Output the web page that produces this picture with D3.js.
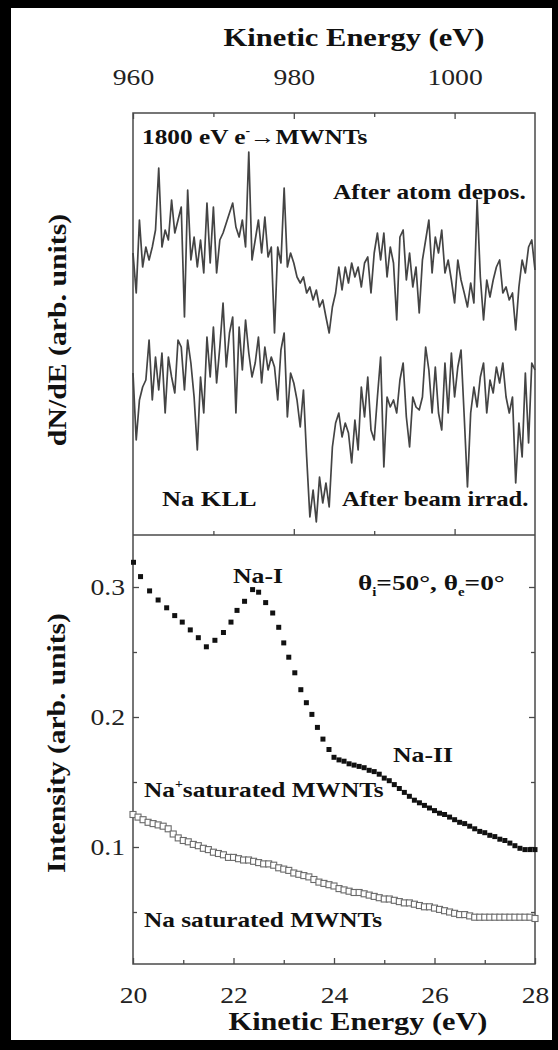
<!DOCTYPE html>
<html>
<head>
<meta charset="utf-8">
<script src="https://cdn.jsdelivr.net/npm/d3@7"></script>
<style>
  body { margin: 0; background: #fff; }
</style>
</head>
<body>
<svg id="chart"></svg>
<script>
// Datos
// Panel superior: espectros Auger Na KLL, energía 960..1010 eV, paso 0.4 eV
const keStart = 960;
const keStep = 0.4;
const afterDepos = [
  282, 242, 315, 268, 288, 275, 288, 305, 367, 288, 305, 295, 335, 302, 315, 328, 218, 345, 275, 298,
  268, 295, 262, 332, 272, 328, 262, 295, 302, 312, 322, 332, 308, 298, 315, 288, 383, 275, 295, 315,
  282, 318, 278, 288, 202, 288, 272, 347, 268, 282, 272, 258, 252, 258, 242, 248, 235, 245, 228, 235,
  218, 202, 228, 242, 268, 245, 268, 252, 272, 258, 268, 248, 272, 278, 242, 282, 302, 275, 302, 258,
  288, 272, 215, 298, 305, 255, 282, 248, 268, 222, 275, 295, 315, 262, 298, 282, 305, 262, 275, 255,
  232, 275, 255, 242, 228, 252, 232, 335, 258, 215, 255, 238, 255, 268, 275, 242, 248, 235, 242, 205,
  248, 275, 262, 288, 295, 265
];
const afterIrrad = [
  162, 95, 135, 148, 155, 195, 135, 178, 145, 182, 122, 178, 158, 142, 195, 188, 145, 195, 172, 138,
  85, 158, 122, 198, 158, 208, 152, 188, 232, 168, 202, 218, 122, 208, 165, 215, 182, 158, 172, 198,
  152, 188, 165, 178, 168, 135, 185, 202, 118, 162, 152, 135, 108, 145, 78, 18, 45, 13, 58, 32,
  52, 28, 88, 112, 122, 98, 112, 102, 72, 115, 85, 148, 118, 158, 105, 95, 138, 178, 68, 138,
  128, 135, 122, 155, 172, 118, 88, 138, 128, 125, 138, 188, 165, 122, 168, 122, 105, 172, 122, 182,
  138, 168, 185, 118, 48, 122, 148, 128, 158, 172, 122, 155, 142, 168, 152, 172, 138, 122, 138, 52,
  112, 78, 162, 92, 172, 165
];

// Panel inferior: intensidad vs energía cinética
const naIonE = [
  20.01, 20.15, 20.33, 20.5, 20.67, 20.83, 20.98, 21.14, 21.3, 21.46,
  21.63, 21.8, 21.95, 22.07, 22.22, 22.38, 22.5, 22.64, 22.78, 22.9,
  23.0, 23.1, 23.22, 23.34, 23.45, 23.56, 23.67, 23.78, 23.9, 24.0,
  24.1, 24.2, 24.3, 24.4, 24.5, 24.6, 24.7, 24.8, 24.9, 25.0,
  25.1, 25.2, 25.3, 25.4, 25.5, 25.6, 25.7, 25.8, 25.9, 26.0,
  26.1, 26.2, 26.3, 26.4, 26.5, 26.6, 26.7, 26.8, 26.9, 27.0,
  27.1, 27.2, 27.3, 27.4, 27.5, 27.6, 27.7, 27.8, 27.9, 28.0
];
const naIonI = [
  0.319, 0.308, 0.297, 0.290, 0.284, 0.278, 0.273, 0.267, 0.261, 0.254,
  0.259, 0.265, 0.273, 0.282, 0.289, 0.298, 0.296, 0.288, 0.280, 0.269,
  0.257, 0.246, 0.234, 0.221, 0.211, 0.202, 0.192, 0.183, 0.175, 0.169,
  0.167, 0.166, 0.164, 0.163, 0.162, 0.161, 0.159, 0.158, 0.156, 0.153,
  0.151, 0.148, 0.145, 0.142, 0.139, 0.136, 0.134, 0.132, 0.130, 0.128,
  0.126, 0.125, 0.123, 0.121, 0.119, 0.118, 0.116, 0.114, 0.112, 0.111,
  0.109, 0.108, 0.106, 0.105, 0.103, 0.101, 0.099, 0.098, 0.098, 0.098
];
const naAtomE = [
  20.0, 20.1, 20.2, 20.3, 20.4, 20.5, 20.6, 20.7, 20.8, 20.9,
  21.0, 21.1, 21.2, 21.3, 21.4, 21.5, 21.6, 21.7, 21.8, 21.9,
  22.0, 22.1, 22.2, 22.3, 22.4, 22.5, 22.6, 22.7, 22.8, 22.9,
  23.0, 23.1, 23.2, 23.3, 23.4, 23.5, 23.6, 23.7, 23.8, 23.9,
  24.0, 24.1, 24.2, 24.3, 24.4, 24.5, 24.6, 24.7, 24.8, 24.9,
  25.0, 25.1, 25.2, 25.3, 25.4, 25.5, 25.6, 25.7, 25.8, 25.9,
  26.0, 26.1, 26.2, 26.3, 26.4, 26.5, 26.6, 26.7, 26.8, 26.9,
  27.0, 27.1, 27.2, 27.3, 27.4, 27.5, 27.6, 27.7, 27.8, 27.9, 28.0
];
const naAtomI = [
  0.125, 0.123, 0.121, 0.119, 0.118, 0.117, 0.116, 0.114, 0.110, 0.107,
  0.105, 0.104, 0.102, 0.101, 0.099, 0.098, 0.096, 0.095, 0.094, 0.092,
  0.092, 0.091, 0.090, 0.090, 0.089, 0.088, 0.087, 0.087, 0.086, 0.084,
  0.083, 0.082, 0.080, 0.079, 0.078, 0.077, 0.075, 0.073, 0.072, 0.071,
  0.070, 0.068, 0.067, 0.066, 0.065, 0.065, 0.064, 0.063, 0.062, 0.061,
  0.060, 0.060, 0.059, 0.058, 0.057, 0.057, 0.056, 0.055, 0.054, 0.054,
  0.053, 0.052, 0.051, 0.050, 0.049, 0.048, 0.048, 0.047, 0.046, 0.046,
  0.046, 0.046, 0.046, 0.046, 0.046, 0.046, 0.046, 0.046, 0.046, 0.046, 0.045
];

const topMajor = [960, 980, 1000];
const topMinor = [970, 990];
const botMajor = [20, 22, 24, 26, 28];
const botMinor = [21, 23, 25, 27];
const yMajor = [0.1, 0.2, 0.3];
const yMinor = [0.05, 0.15, 0.25];

// Configuración
const width = 558;
const height = 1050;
const L = 133, R = 535, T = 113, M = 535, B = 964;
const frameColor = "#4a4a4a";
const serif = "'Liberation Serif', 'Times New Roman', Times, serif";

const svg = d3.select("#chart")
    .attr("width", width)
    .attr("height", height)
    .style("font-family", serif);

svg.append("rect").attr("width", width).attr("height", height).attr("fill", "#fff");

// estira el texto en horizontal (la figura original está algo ensanchada)
function stretch(sel, k) {
    sel.each(function () {
        const w = this.getComputedTextLength();
        d3.select(this).attr("textLength", w * k).attr("lengthAdjust", "spacingAndGlyphs");
    });
}

// Escalas
const xTop = d3.scaleLinear().domain([960, 1010]).range([L, R]);
const yTop = d3.scaleLinear().domain([0, 422]).range([M, T]);
const xBot = d3.scaleLinear().domain([20, 28]).range([L, R]);
const yBot = d3.scaleLinear().domain([0.01, 0.34]).range([B, M]);

function styleAxis(g) {
    g.attr("font-family", null).attr("font-size", null);
    g.select(".domain").remove();
    g.selectAll(".tick line").attr("stroke", frameColor).attr("stroke-width", 1.3);
    g.selectAll(".tick text")
        .attr("fill", "#222")
        .style("font-family", serif)
        .style("font-size", "24px")
        .call(stretch, 1.15);
}

// Ejes panel superior
svg.append("g").attr("transform", `translate(0,${T})`)
    .call(d3.axisTop(xTop).tickValues(topMajor).tickSize(-6).tickPadding(28).tickFormat(d3.format("d")))
    .call(styleAxis);
svg.append("g").attr("transform", `translate(0,${T})`)
    .call(d3.axisTop(xTop).tickValues(topMinor).tickSize(-4).tickFormat(""))
    .call(styleAxis);
svg.append("g").attr("transform", `translate(0,${M})`)
    .call(d3.axisBottom(xTop).tickValues(topMajor.slice(1)).tickSize(-6).tickFormat(""))
    .call(styleAxis);
svg.append("g").attr("transform", `translate(0,${M})`)
    .call(d3.axisBottom(xTop).tickValues(topMinor).tickSize(-4).tickFormat(""))
    .call(styleAxis);

// Ejes panel inferior
svg.append("g").attr("transform", `translate(0,${B})`)
    .call(d3.axisBottom(xBot).tickValues(botMajor).tickSize(-6).tickPadding(22))
    .call(styleAxis);
svg.append("g").attr("transform", `translate(0,${B})`)
    .call(d3.axisBottom(xBot).tickValues(botMinor).tickSize(-4).tickFormat(""))
    .call(styleAxis);
svg.append("g").attr("transform", `translate(${L},0)`)
    .call(d3.axisLeft(yBot).tickValues(yMajor).tickSize(-6).tickPadding(8).tickFormat(d3.format(".1f")))
    .call(styleAxis);
svg.append("g").attr("transform", `translate(${L},0)`)
    .call(d3.axisLeft(yBot).tickValues(yMinor).tickSize(-4).tickFormat(""))
    .call(styleAxis);
svg.append("g").attr("transform", `translate(${R},0)`)
    .call(d3.axisRight(yBot).tickValues(yMajor).tickSize(-6).tickFormat(""))
    .call(styleAxis);
svg.append("g").attr("transform", `translate(${R},0)`)
    .call(d3.axisRight(yBot).tickValues(yMinor).tickSize(-4).tickFormat(""))
    .call(styleAxis);

// Marcos
svg.append("rect").attr("x", L).attr("y", T).attr("width", R - L).attr("height", B - T)
    .attr("fill", "none").attr("stroke", frameColor).attr("stroke-width", 1.5);
svg.append("line").attr("x1", L).attr("x2", R).attr("y1", M).attr("y2", M)
    .attr("stroke", frameColor).attr("stroke-width", 1.5);

// Espectros
const line = d3.line()
    .x((d, i) => xTop(keStart + i * keStep))
    .y(d => yTop(d));

[afterDepos, afterIrrad].forEach(s => {
    svg.append("path")
        .datum(s)
        .attr("d", line)
        .attr("fill", "none")
        .attr("stroke", "#444")
        .attr("stroke-width", 1.7)
        .attr("stroke-linejoin", "round");
});

// Puntos panel inferior
const sq = 5;
svg.append("g").selectAll("rect")
    .data(naAtomE)
    .enter()
    .append("rect")
    .attr("x", d => xBot(d) - 3)
    .attr("y", (d, i) => yBot(naAtomI[i]) - 3)
    .attr("width", 6).attr("height", 6)
    .attr("fill", "#fff").attr("stroke", "#6a6a6a").attr("stroke-width", 1.1);

svg.append("g").selectAll("rect")
    .data(naIonE)
    .enter()
    .append("rect")
    .attr("x", d => xBot(d) - sq / 2)
    .attr("y", (d, i) => yBot(naIonI[i]) - sq / 2)
    .attr("width", sq).attr("height", sq)
    .attr("fill", "#111");

// Títulos de ejes
const txt = (x, y, size) => svg.append("text")
    .attr("x", x).attr("y", y)
    .attr("font-family", serif)
    .attr("font-size", size)
    .attr("font-weight", "bold")
    .attr("fill", "#111");

txt(354, 46, 25).attr("text-anchor", "middle").text("Kinetic Energy (eV)").call(stretch, 1.22);
txt(358, 1030, 25).attr("text-anchor", "middle").text("Kinetic Energy (eV)").call(stretch, 1.21);
txt(0, 0, 25).attr("transform", "translate(66,330) rotate(-90)").attr("text-anchor", "middle")
    .text("dN/dE (arb. units)").call(stretch, 1.19);
txt(0, 0, 25).attr("transform", "translate(65,743) rotate(-90)").attr("text-anchor", "middle")
    .text("Intensity (arb. units)").call(stretch, 1.18);

// Anotaciones
const ann = (x, y) => txt(x, y, 22);

const t1 = ann(142, 144);
t1.append("tspan").text("1800 eV e");
t1.append("tspan").attr("font-size", 12).attr("dy", -9).text("-");
t1.append("tspan").attr("dy", 9).text("\u2192MWNTs");
t1.call(stretch, 1.15);

ann(333, 199).text("After atom depos.").call(stretch, 1.15);
ann(162, 506).text("Na KLL").call(stretch, 1.2);
ann(342, 506).text("After beam irrad.").call(stretch, 1.12);
ann(233, 583).text("Na-I").call(stretch, 1.17);
ann(393, 762).text("Na-II").call(stretch, 1.17);

const t2 = ann(358, 590);
t2.append("tspan").text("\u03b8");
t2.append("tspan").attr("font-size", 12).attr("dy", 6).text("i");
t2.append("tspan").attr("dy", -6).text("=50\u00b0, \u03b8");
t2.append("tspan").attr("font-size", 12).attr("dy", 6).text("e");
t2.append("tspan").attr("dy", -6).text("=0\u00b0");
t2.call(stretch, 1.24);

const t3 = ann(144, 797);
t3.append("tspan").text("Na");
t3.append("tspan").attr("font-size", 12).attr("dy", -9).text("+");
t3.append("tspan").attr("dy", 9).text("saturated MWNTs");
t3.call(stretch, 1.15);

ann(144, 927).text("Na saturated MWNTs").call(stretch, 1.15);

// Borde negro exterior
svg.append("rect").attr("x", 0).attr("y", 0).attr("width", width).attr("height", 8).attr("fill", "#000");
svg.append("rect").attr("x", 0).attr("y", 1040).attr("width", width).attr("height", 10).attr("fill", "#000");
svg.append("rect").attr("x", 0).attr("y", 0).attr("width", 11).attr("height", height).attr("fill", "#000");
svg.append("rect").attr("x", 552).attr("y", 0).attr("width", 6).attr("height", height).attr("fill", "#000");
</script>
</body>
</html>
